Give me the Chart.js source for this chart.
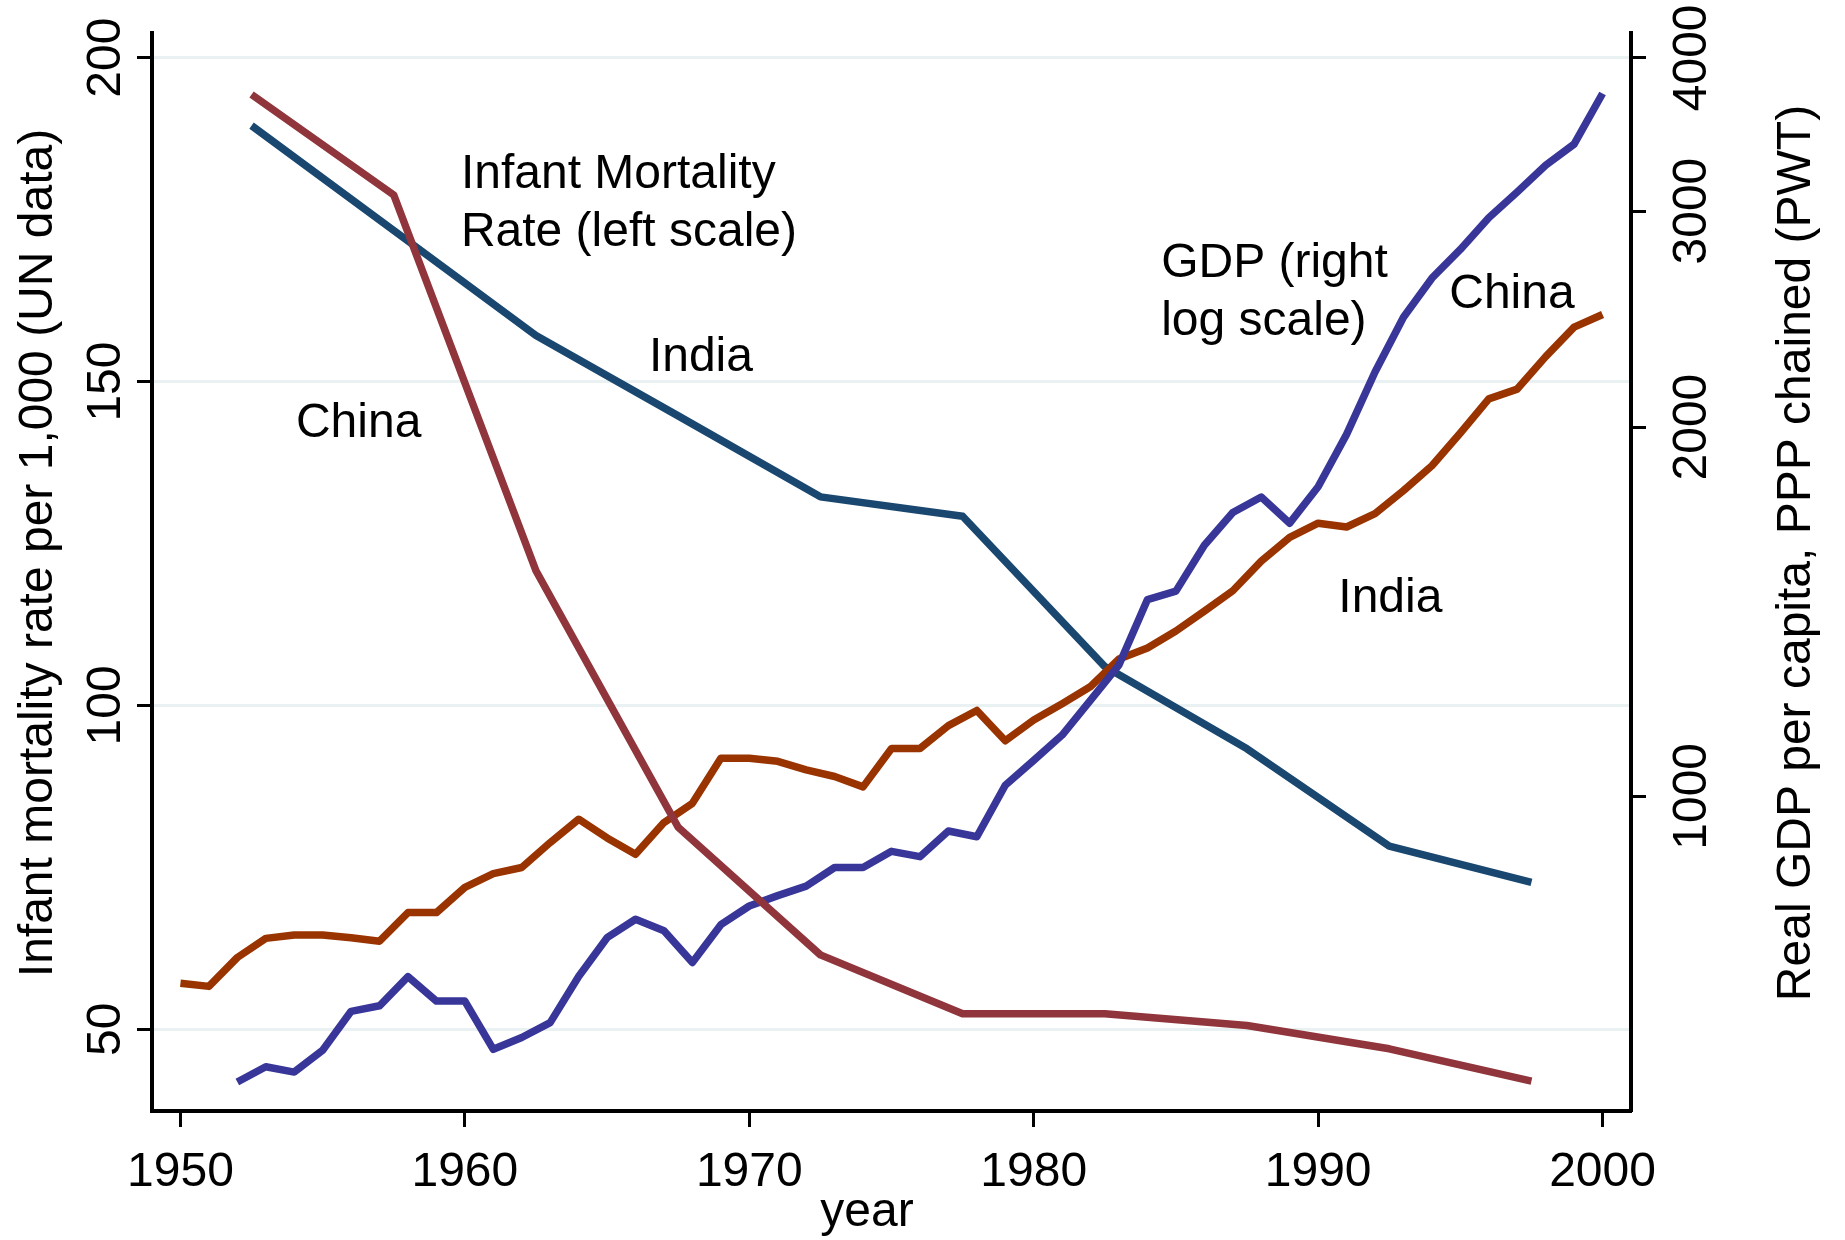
<!DOCTYPE html>
<html>
<head>
<meta charset="utf-8">
<script src="https://cdn.jsdelivr.net/npm/chart.js@4.4.1/dist/chart.umd.min.js"></script>
<style>
  html, body { margin: 0; padding: 0; background: #fff; }
  #wrap { width: 1845px; height: 1240px; position: relative; }
</style>
</head>
<body>
<div id="wrap"><canvas id="chart"></canvas></div>
<script>
// ── Data ──────────────────────────────────────────────────────────────────────
// Infant mortality (UN, 5-year period midpoints), left scale
const imrYears = [1952.5, 1957.5, 1962.5, 1967.5, 1972.5, 1977.5, 1982.5, 1987.5, 1992.5, 1997.5];
const chinaImr = [194.3, 178.8, 120.8, 81.2, 61.5, 52.4, 52.4, 50.6, 47.0, 42.0];
const indiaImr = [189.5, 173.3, 157.1, 144.7, 132.2, 129.2, 106.0, 93.3, 78.3, 72.7];

// Real GDP per capita (PWT), right log scale
const indiaYears = [1950, 1951, 1952, 1953, 1954, 1955, 1956, 1957, 1958, 1959,
                    1960, 1961, 1962, 1963, 1964, 1965, 1966, 1967, 1968, 1969,
                    1970, 1971, 1972, 1973, 1974, 1975, 1976, 1977, 1978, 1979,
                    1980, 1981, 1982, 1983, 1984, 1985, 1986, 1987, 1988, 1989,
                    1990, 1991, 1992, 1993, 1994, 1995, 1996, 1997, 1998, 1999, 2000];
const indiaGdp = [704, 700, 739, 766, 771, 771, 767, 762, 804, 804,
                  843, 865, 875, 917, 958, 925, 897, 952, 987, 1074,
                  1074, 1068, 1051, 1038, 1018, 1094, 1094, 1142, 1175, 1110,
                  1154, 1190, 1229, 1294, 1321, 1364, 1416, 1471, 1555, 1626,
                  1670, 1658, 1700, 1775, 1860, 1978, 2109, 2148, 2283, 2413, 2471];
const chinaYears = indiaYears.slice(2);
const chinaGdp = [585, 602, 596, 621, 668, 675, 713, 681,
                  681, 622, 636, 654, 713, 767, 794, 777, 732, 786,
                  814, 830, 845, 875, 875, 902, 893, 937, 927, 1021,
                  1070, 1122, 1198, 1280, 1447, 1470, 1602, 1704, 1754, 1670,
                  1788, 1973, 2218, 2458, 2645, 2792, 2963, 3110, 3270, 3402, 3741];

const yearTicks = [1950, 1960, 1970, 1980, 1990, 2000];
const imrTicks  = [50, 100, 150, 200];
const gdpTicks  = [1000, 2000, 3000, 4000];

// in-plot labels, anchored in (year, left-scale value)
const notes = [
  { lines: ['Infant Mortality', 'Rate (left scale)'], year: 1959.86, imr: 179.8 },
  { lines: ['China'],                 year: 1954.06, imr: 141.45 },
  { lines: ['India'],                 year: 1966.47, imr: 151.6 },
  { lines: ['GDP (right', 'log scale)'], year: 1984.48, imr: 166.2 },
  { lines: ['China'],                 year: 1994.61, imr: 161.3 },
  { lines: ['India'],                 year: 1990.71, imr: 114.5 },
];

// ── Chart ─────────────────────────────────────────────────────────────────────
const FONT = "'Liberation Sans', Arial, Helvetica, sans-serif";
Chart.defaults.font.family = FONT;
Chart.defaults.color = '#000';

const pts = (xs, ys) => ys.map((v, i) => ({ x: xs[i], y: v }));
const fixTicks = vals => scale => { scale.ticks = vals.map(v => ({ value: v })); };
const noPad = s => { s.paddingTop = 0; s.paddingBottom = 0; s.paddingLeft = 0; s.paddingRight = 0; };

const textPlugin = {
  id: 'chartText',
  afterDraw(chart) {
    const { ctx, scales: { x, y } } = chart;
    ctx.save();
    ctx.fillStyle = '#000';
    ctx.font = `48px ${FONT}`;
    ctx.textBaseline = 'alphabetic';

    ctx.textAlign = 'left';
    notes.forEach(n => {
      const px = x.getPixelForValue(n.year);
      const py = y.getPixelForValue(n.imr);
      n.lines.forEach((t, i) => ctx.fillText(t, px, py + i * 58));
    });

    // axis titles
    ctx.textAlign = 'center';
    ctx.fillText('year', 867, 1226);

    ctx.save();
    ctx.translate(52, 553);
    ctx.rotate(-Math.PI / 2);
    ctx.fillText('Infant mortality rate per 1,000 (UN data)', 0, 0);
    ctx.restore();

    ctx.save();
    ctx.translate(1810, 553);
    ctx.rotate(-Math.PI / 2);
    ctx.fillText('Real GDP per capita, PPP chained (PWT)', 0, 0);
    ctx.restore();

    ctx.restore();
  }
};

new Chart(document.getElementById('chart'), {
  type: 'line',
  data: {
    datasets: [
      { label: 'China IMR', data: pts(imrYears, chinaImr),   yAxisID: 'y',  borderColor: '#90353B' },
      { label: 'China GDP', data: pts(chinaYears, chinaGdp), yAxisID: 'y2', borderColor: '#383799' },
      { label: 'India GDP', data: pts(indiaYears, indiaGdp), yAxisID: 'y2', borderColor: '#993300' },
      { label: 'India IMR', data: pts(imrYears, indiaImr),   yAxisID: 'y',  borderColor: '#1A476F' },
    ]
  },
  options: {
    responsive: true,
    maintainAspectRatio: false,
    animation: false,
    layout: { padding: { top: 33, left: 0, right: 0, bottom: 0 } },
    plugins: { legend: { display: false }, tooltip: { enabled: false } },
    elements: {
      point: { radius: 0 },
      line: { borderWidth: 7.5, tension: 0, fill: false, borderJoinStyle: 'round', borderCapStyle: 'butt' }
    },
    scales: {
      x: {
        type: 'linear', position: 'bottom', min: 1949, max: 2001,
        afterBuildTicks: fixTicks(yearTicks),
        afterFit: s => { s.height = 129; noPad(s); },
        grid: { drawOnChartArea: false, tickLength: 16, tickWidth: 3, tickColor: '#000' },
        border: { color: '#000', width: 4 },
        ticks: { font: { size: 48 }, padding: 17, maxRotation: 0, autoSkip: false, callback: v => String(v) }
      },
      y: {
        type: 'linear', position: 'left', min: 37.4, max: 203.8,
        afterBuildTicks: fixTicks(imrTicks),
        afterFit: s => { s.width = 152; noPad(s); },
        grid: { color: '#E9F1F2', lineWidth: 3, tickLength: 15, tickWidth: 3, tickColor: '#000' },
        border: { color: '#000', width: 4 },
        ticks: { font: { size: 48 }, minRotation: 90, maxRotation: 90, crossAlign: 'center',
                 padding: -10, autoSkip: false, callback: v => String(v) }
      },
      y2: {
        type: 'logarithmic', position: 'right', min: 554, max: 4191,
        afterBuildTicks: fixTicks(gdpTicks),
        afterFit: s => { s.width = 214; noPad(s); },
        grid: { drawOnChartArea: false, tickLength: 15, tickWidth: 3, tickColor: '#000' },
        border: { color: '#000', width: 4 },
        ticks: { font: { size: 48 }, minRotation: 90, maxRotation: 90, crossAlign: 'center',
                 padding: -7, autoSkip: false, callback: v => String(v) }
      }
    }
  },
  plugins: [textPlugin]
});
</script>
</body>
</html>
